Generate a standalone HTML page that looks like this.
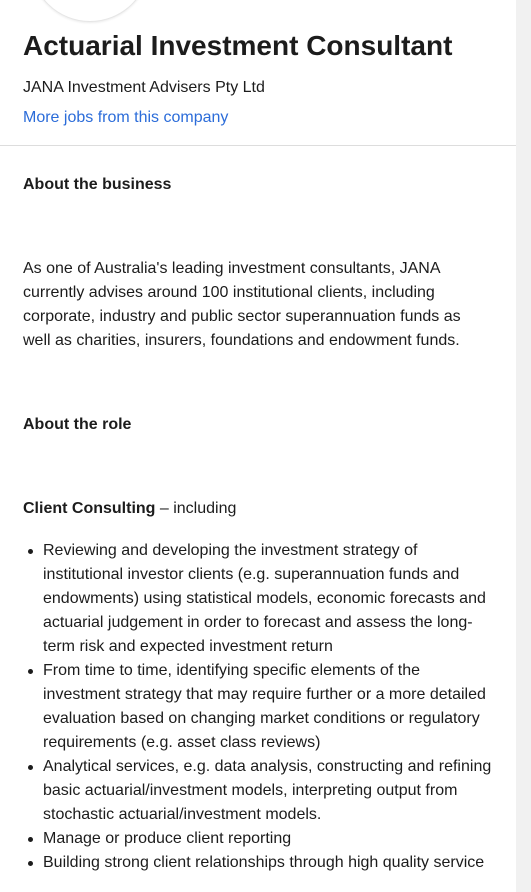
<!DOCTYPE html>
<html><head><meta charset="utf-8"><style>
body{margin:0;width:531px;height:892px;overflow:hidden;background:#fff;font-family:"Liberation Sans",Arial,sans-serif;color:#1c1c1c;position:relative}
.abs{position:absolute;left:23px;margin:0}
.t{font-size:16px;line-height:24px}
ul{position:absolute;left:23px;top:539px;margin:0;padding:0 0 0 20px;width:480px;font-size:16px;line-height:24px;list-style:none}
li{position:relative}
li:before{content:"";position:absolute;left:-15px;top:10px;width:5px;height:5px;border-radius:50%;background:#1c1c1c}
</style></head><body>
<div style="position:absolute;left:516px;top:0;width:15px;height:892px;background:#f1f1f1"></div>
<div style="position:absolute;left:30px;top:-98px;width:118px;height:118px;border-radius:50%;border:1px solid #e6e6e6;box-shadow:0 1px 2px rgba(0,0,0,.08);background:#fff"></div>
<h1 class="abs" style="top:29px;font-size:28px;line-height:34px;font-weight:bold;color:#1c1c1c">Actuarial Investment Consultant</h1>
<div class="abs t" style="top:76px">JANA Investment Advisers Pty Ltd</div>
<a class="abs t" style="top:106px;color:#2b6cd9;text-decoration:none">More jobs from this company</a>
<div style="position:absolute;left:0;top:145px;width:516px;height:1px;background:#ddd"></div>
<div class="abs t" style="top:173px;font-weight:bold">About the business</div>
<div class="abs t" style="top:257px;width:480px">As one of Australia's leading investment consultants, JANA<br>currently advises around 100 institutional clients, including<br>corporate, industry and public sector superannuation funds as<br>well as charities, insurers, foundations and endowment funds.</div>
<div class="abs t" style="top:413px;font-weight:bold">About the role</div>
<div class="abs t" style="top:497px"><b>Client Consulting</b> – including</div>
<ul>
<li>Reviewing and developing the investment strategy of<br>institutional investor clients (e.g. superannuation funds and<br>endowments) using statistical models, economic forecasts and<br>actuarial judgement in order to forecast and assess the long-<br>term risk and expected investment return</li>
<li>From time to time, identifying specific elements of the<br>investment strategy that may require further or a more detailed<br>evaluation based on changing market conditions or regulatory<br>requirements (e.g. asset class reviews)</li>
<li>Analytical services, e.g. data analysis, constructing and refining<br>basic actuarial/investment models, interpreting output from<br>stochastic actuarial/investment models.</li>
<li>Manage or produce client reporting</li>
<li>Building strong client relationships through high quality service</li>
</ul>
</body></html>
